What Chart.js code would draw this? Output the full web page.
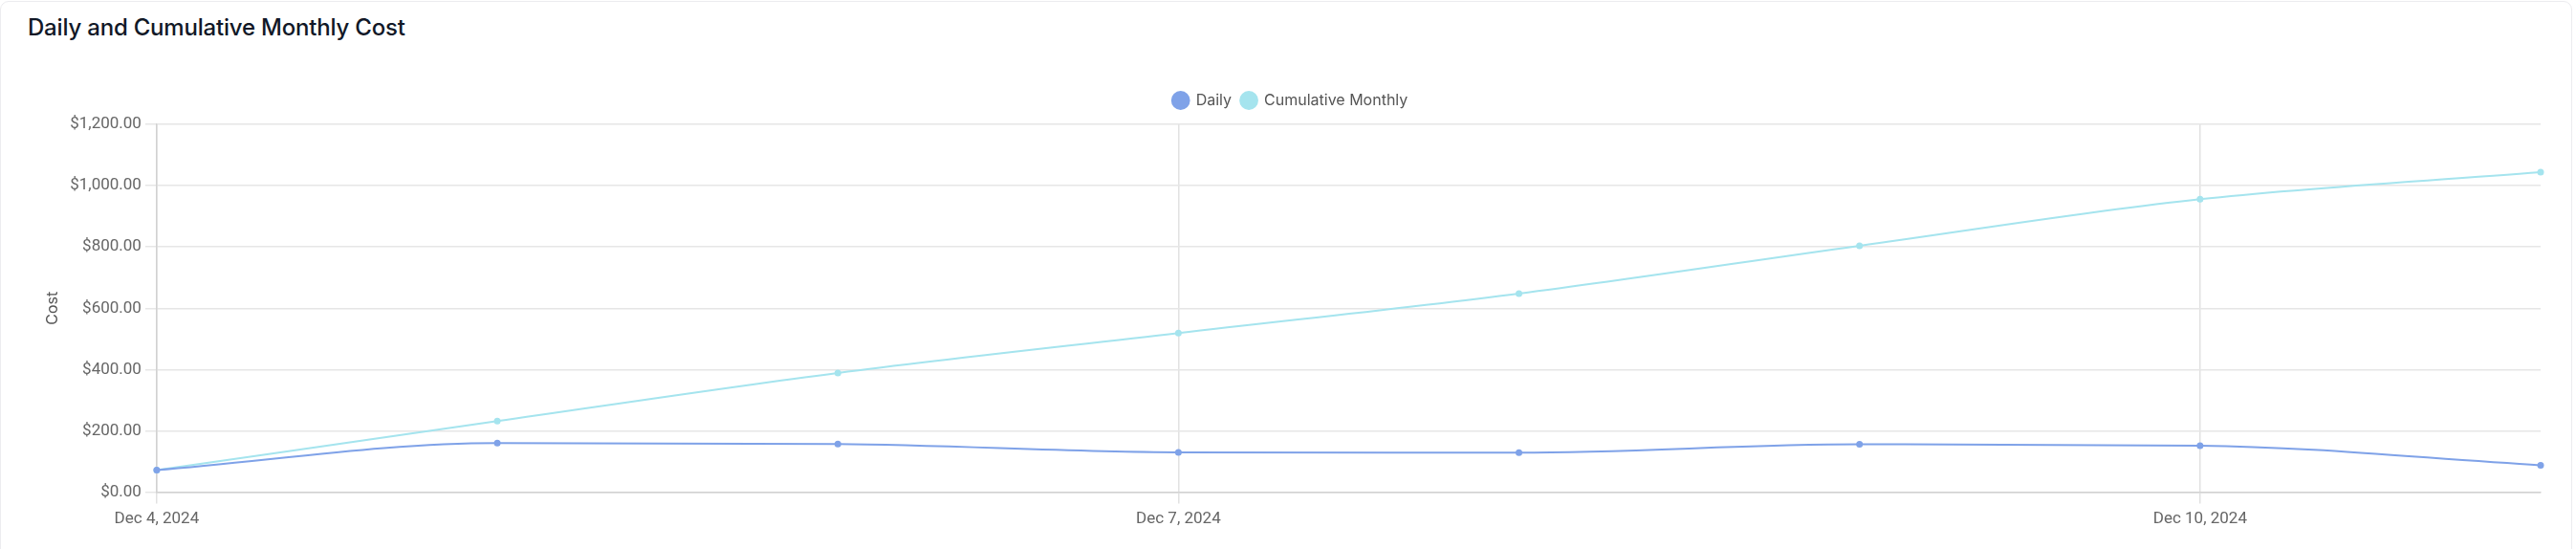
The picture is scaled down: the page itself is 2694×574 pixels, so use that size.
<!DOCTYPE html>
<html>
<head>
<meta charset="utf-8">
<script src="https://cdn.jsdelivr.net/npm/chart.js@4"></script>
<style>
  html, body { margin: 0; padding: 0; background: #fff; }
  body { width: 2694px; height: 574px; position: relative; overflow: hidden; font-family: Inter, "Noto Sans", sans-serif; }
  .card { position: absolute; left: 0px; top: 1px; width: 2690px; height: 600px; border: 1px solid #ececef; border-radius: 9px; box-sizing: border-box; }
  .title { position: absolute; left: 29px; top: 14px; font-size: 24px; font-weight: 500; color: #111827; letter-spacing: -0.2px; }
  .wrap { position: absolute; left: 20px; top: 87px; width: 2660px; height: 487px; }
</style>
</head>
<body>
<div class="card"></div>
<div class="title">Daily and Cumulative Monthly Cost</div>
<div class="wrap"><canvas id="c"></canvas></div>
<script>
const dates = ["Dec 4, 2024", "Dec 5, 2024", "Dec 6, 2024", "Dec 7, 2024", "Dec 8, 2024", "Dec 9, 2024", "Dec 10, 2024", "Dec 11, 2024"];
const daily = [72, 160, 157, 130, 129, 156, 152, 88];
const cumulative = [72, 232, 389, 519, 648, 804, 956, 1044];
const yTicks = [0, 200, 400, 600, 800, 1000, 1200];
const seriesNames = ["Daily", "Cumulative Monthly"];
const dailyColor = "#7fa2e8";
const cumColor = "#a5e4ee";

const fmt = v => "$" + Number(v).toLocaleString("en-US", { minimumFractionDigits: 2, maximumFractionDigits: 2 });

const legendGap = {
  id: "legendGap",
  beforeInit(chart) {
    const orig = chart.legend.fit;
    chart.legend.fit = function () { orig.call(this); this.height += 7; };
  }
};

new Chart(document.getElementById("c"), {
  type: "line",
  data: {
    labels: dates,
    datasets: [
      { label: seriesNames[0], data: daily, borderColor: dailyColor, backgroundColor: dailyColor, borderWidth: 2, pointRadius: 3.5, pointBorderWidth: 0, cubicInterpolationMode: "monotone" },
      { label: seriesNames[1], data: cumulative, borderColor: cumColor, backgroundColor: cumColor, borderWidth: 2, pointRadius: 3.5, pointBorderWidth: 0, cubicInterpolationMode: "monotone" }
    ]
  },
  plugins: [legendGap],
  options: {
    responsive: true,
    maintainAspectRatio: false,
    animation: false,
    devicePixelRatio: 1,
    layout: { padding: { left: 22, right: 23, top: 0, bottom: 15 } },
    plugins: {
      legend: {
        position: "top",
        labels: { usePointStyle: true, pointStyle: "circle", boxHeight: 14, font: { family: "Inter", size: 16 }, color: "#555" }
      },
      tooltip: { enabled: false }
    },
    scales: {
      x: {
        type: "category",
        offset: false,
        grid: {
          color: ctx => (ctx.index % 3 === 0 ? "#e2e2e2" : "rgba(0,0,0,0)"),
          tickLength: 12,
          lineWidth: 1.5
        },
        border: { color: "#d2d2d2", width: 1.5 },
        ticks: {
          autoSkip: false,
          maxRotation: 0,
          padding: 6,
          color: "#666",
          font: { family: "Roboto", size: 17 },
          callback: function (val, i) { return i % 3 === 0 ? dates[i] : ""; }
        }
      },
      y: {
        min: yTicks[0],
        max: yTicks[yTicks.length - 1],
        afterBuildTicks: axis => { axis.ticks = yTicks.map(v => ({ value: v })); },
        grid: { color: "#e6e6e6", tickLength: 12, lineWidth: 1.5 },
        border: { color: "#d2d2d2", width: 1.5 },
        ticks: { padding: 4, color: "#666", font: { family: "Roboto", size: 17 }, callback: v => fmt(v) },
        title: { display: true, text: "Cost", color: "#555", font: { family: "Inter", size: 16 }, padding: { top: 4, bottom: 4 } }
      }
    }
  }
});
</script>
</body>
</html>
